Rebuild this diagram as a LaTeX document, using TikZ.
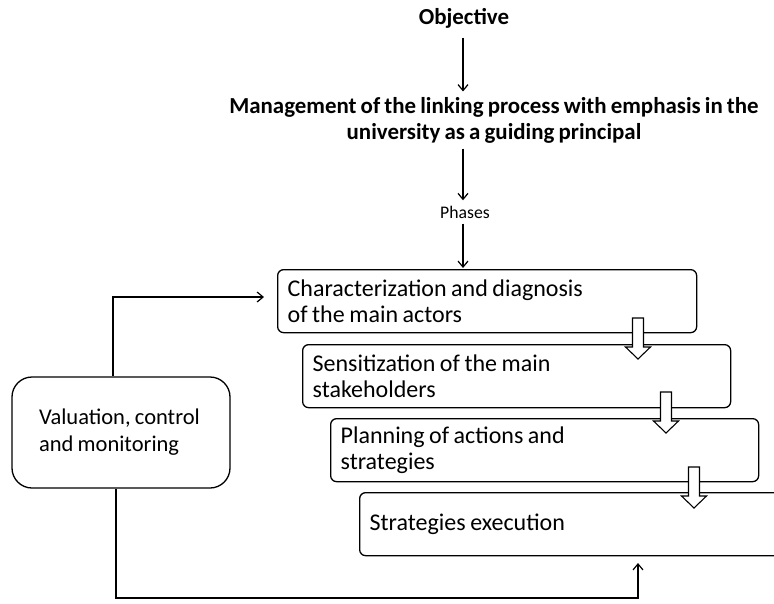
\documentclass[tikz,border=0pt]{standalone}
\usepackage{fontspec}
\setmainfont{Carlito}[WordSpace=0.8]
\usetikzlibrary{arrows.meta}
\begin{document}
\begin{tikzpicture}[x=1pt,y=-1pt,
  arr/.style={line width=1.2pt,-{Straight Barb[length=6pt,width=10pt,line width=1.2pt]}},
  tightleft/.style={execute at begin node={\raggedright\spaceskip=0.19em plus 0.05em\relax}},
  phasebox/.style={draw,line width=1.3pt,rounded corners=6pt,anchor=north west,
    minimum height=63pt,inner xsep=10pt,tightleft,
    font=\fontsize{24}{26}\selectfont},
  hollow/.pic={\draw[line width=1.1pt,fill=white,line join=miter]
     (-5.5,0) -- (5.5,0) -- (5.5,29) -- (12.5,29) -- (0,41) -- (-12.5,29) -- (-5.5,29) -- cycle;}
]
\useasboundingbox (0,0) rectangle (774,603);
\node[font=\bfseries\fontsize{22.9}{26}\selectfont] (obj) at (464,18) {Objective};
\node[font=\bfseries\fontsize{22.9}{26}\selectfont,align=center] (mgmt) at (494,120)
  {Management of the linking process with emphasis in the\\university as a guiding principal};
\node[font=\fontsize{17.7}{20}\selectfont] (phases) at (465,212) {Phases};

\node[phasebox,minimum width=419pt,text width=399pt] (b1) at (277,269)
  {Characterization and diagnosis\\of the main actors};
\node[phasebox,minimum width=428pt,text width=408pt] (b2) at (302,344)
  {Sensitization of the main\\stakeholders};
\node[phasebox,minimum width=428pt,text width=408pt] (b3) at (330,418)
  {Planning of actions and\\strategies};
\node[phasebox,minimum width=440pt,text width=420pt] (b4) at (359,492)
  {Strategies execution};

\node[draw,line width=1.3pt,rounded corners=20pt,minimum width=218pt,minimum height=111pt,
  inner xsep=27pt,text width=164pt,tightleft,
  font=\fontsize{22.5}{27}\selectfont] (val) at (121,432.5)
  {\mbox{Valuation, control}\\\mbox{and monitoring}};

\draw[arr,shorten <=6pt,shorten >=2pt] (obj.south -| 463,0) -- (mgmt.north -| 463,0);
\draw[arr,shorten <=2pt,shorten >=2pt] (mgmt.south -| 463,0) -- (phases.north -| 463,0);
\draw[arr,shorten <=2pt,shorten >=1pt] (phases.south -| 463,0) -- (b1.north -| 463,0);

\pic at (638,318) {hollow};
\pic at (666,392) {hollow};
\pic at (694,467) {hollow};

\coordinate (topturn) at (113,297);
\draw[arr,shorten >=13pt] (val.north -| topturn) -- (topturn) -- (b1.west |- topturn);
\coordinate (low) at (116,598);
\coordinate (fbend) at (638,563);
\draw[arr] (val.south -| low) -- (low) -| (fbend);
\end{tikzpicture}
\end{document}
